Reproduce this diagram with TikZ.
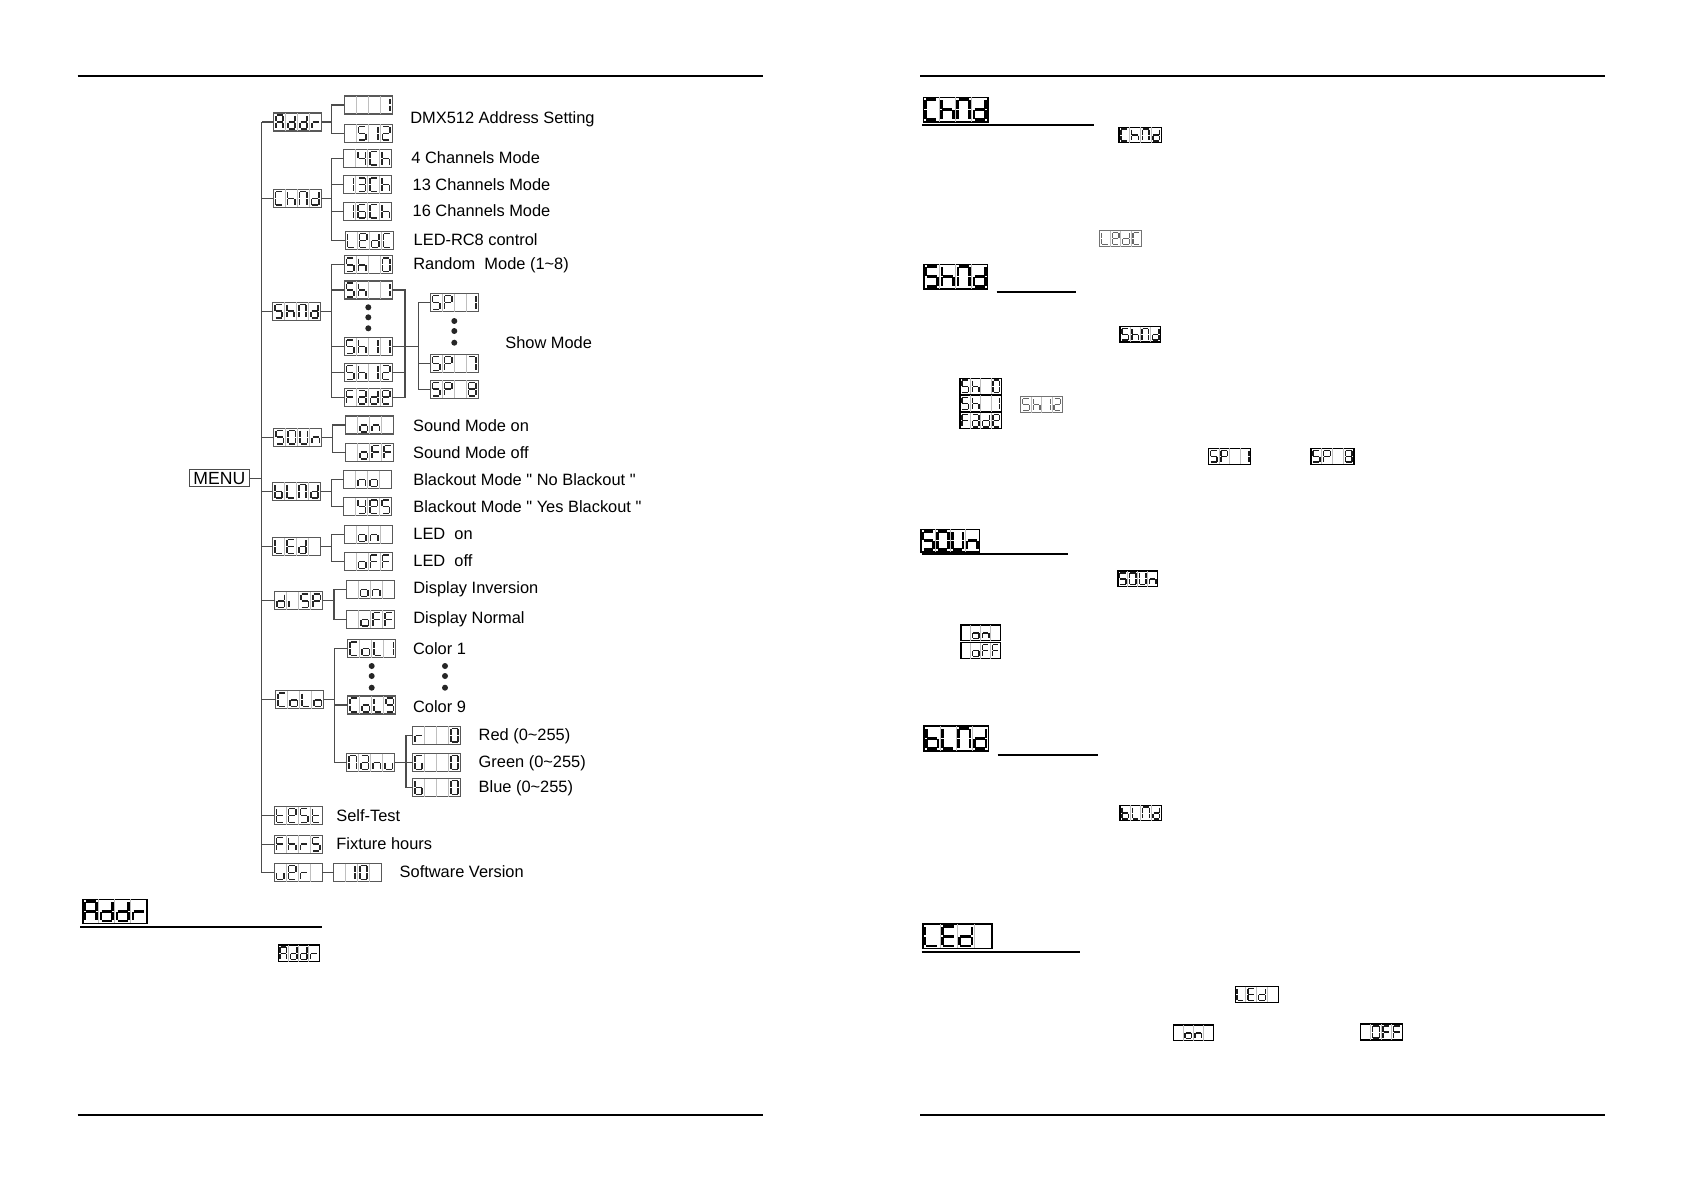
\documentclass[tikz,border=0pt]{standalone}
\usepackage{fontspec}
\setmainfont{Liberation Sans}
\usetikzlibrary{calc}

% ---------- seven-segment machinery ----------
\newcommand\defch[2]{\expandafter\def\csname lcdch#1\endcsname{#2}}
\defch{x}{}
\defch{A}{abcefg}\defch{a}{abcdeg}\defch{b}{cdefg}\defch{C}{adef}
\defch{d}{bcdeg}\defch{E}{adefg}\defch{e}{abdefg}\defch{F}{aefg}
\defch{G}{acdef}\defch{h}{cefg}\defch{i}{e}\defch{L}{def}
\defch{N}{abcef}\defch{n}{ceg}\defch{o}{cdeg}\defch{O}{abcdef}
\defch{P}{abefg}\defch{r}{eg}\defch{S}{acdfg}\defch{t}{defg}
\defch{U}{bcdef}\defch{u}{cde}\defch{Y}{bcdfg}
\defch{0}{abcdef}\defch{1}{bc}\defch{2}{abdeg}\defch{3}{abcdg}
\defch{4}{bcfg}\defch{5}{acdfg}\defch{6}{acdefg}\defch{7}{abc}
\defch{8}{abcdefg}\defch{9}{abcdfg}

\expandafter\def\csname lcdsga\endcsname{{l}{t}{r}{t}}
\expandafter\def\csname lcdsgb\endcsname{{r}{t}{r}{m}}
\expandafter\def\csname lcdsgc\endcsname{{r}{m}{r}{b}}
\expandafter\def\csname lcdsgd\endcsname{{l}{b}{r}{b}}
\expandafter\def\csname lcdsge\endcsname{{l}{m}{l}{b}}
\expandafter\def\csname lcdsgf\endcsname{{l}{t}{l}{m}}
\expandafter\def\csname lcdsgg\endcsname{{l}{m}{r}{m}}

\def\lcdgo#1#2#3#4{%
  \edef\lcdA{\csname lcdx#1\endcsname}\edef\lcdB{\csname lcdy#2\endcsname}%
  \edef\lcdC{\csname lcdx#3\endcsname}\edef\lcdD{\csname lcdy#4\endcsname}%
  \draw[lcdseg] (\lcdA,\lcdB) -- (\lcdC,\lcdD);}
\def\drawoneseg#1{\expandafter\expandafter\expandafter\lcdgo\csname lcdsg#1\endcsname}
\def\drawsegs#1{\drawsegsi#1\relax}
\def\drawsegsi#1{\ifx#1\relax\let\lcdnext\relax\else\def\lcdnext{\drawoneseg#1\drawsegsi}\fi\lcdnext}

\def\lcdmxtree{0.2}\def\lcdmytree{0.12}
\def\lcdmxbig{0.14}\def\lcdmybig{0.09}
\def\lcdmxsmall{0.18}\def\lcdmysmall{0.12}
\def\lcdmxgray{0.18}\def\lcdmygray{0.12}

% #1 kind, #2 name, #3 x, #4 y, #5 width, #6 height, #7 characters
\newcommand\lcd[7][tree]{%
  \node[lcdbox#1, minimum width={#5*0.5pt}, minimum height={#6*0.5pt}] (#2) at (#3,#4) {};
  \tikzset{lcdseg/.style={lcdseg#1}}%
  \pgfmathsetmacro\lcdX{#3-#5/2}%
  \pgfmathsetmacro\lcdY{#4-#6/2}%
  \pgfmathsetmacro\lcdW{#5/4}%
  \foreach \lcdk in {1,2,3} {\draw[lcdsep] ({\lcdX+\lcdk*\lcdW},\lcdY) -- ++(0,#6);}
  \foreach \lcdc [count=\lcdi] in {#7} {%
    \pgfmathsetmacro\lcdxl{\lcdX+(\lcdi-1)*\lcdW+\csname lcdmx#1\endcsname*\lcdW}%
    \pgfmathsetmacro\lcdxr{\lcdX+\lcdi*\lcdW-\csname lcdmx#1\endcsname*\lcdW}%
    \pgfmathsetmacro\lcdyt{\lcdY+\csname lcdmy#1\endcsname*#6}%
    \pgfmathsetmacro\lcdyb{\lcdY+#6-\csname lcdmy#1\endcsname*#6}%
    \pgfmathsetmacro\lcdym{(\lcdyt+\lcdyb)/2}%
    \edef\lcdsegs{\csname lcdch\lcdc\endcsname}%
    \expandafter\drawsegs\expandafter{\lcdsegs}%
  }%
}

\tikzset{
  lcdboxtree/.style={draw=black!65, line width=0.55pt, inner sep=0pt, outer sep=0pt},
  lcdboxbig/.style={draw=black, line width=0.8pt, inner sep=0pt, outer sep=0pt},
  lcdboxsmall/.style={draw=black, line width=0.55pt, inner sep=0pt, outer sep=0pt},
  lcdboxgray/.style={draw=black!55, line width=0.5pt, inner sep=0pt, outer sep=0pt},
  lcdsegtree/.style={draw=black!85, line width=0.75pt, shorten <=0.3pt, shorten >=0.3pt},
  lcdsegbig/.style={draw=black, line width=1.3pt, shorten <=0.4pt, shorten >=0.4pt},
  lcdsegsmall/.style={draw=black!90, line width=0.7pt, shorten <=0.25pt, shorten >=0.25pt},
  lcdseggray/.style={draw=black!60, line width=0.65pt, shorten <=0.25pt, shorten >=0.25pt},
  lcdsep/.style={draw=black!25, line width=0.4pt},
  wire/.style={draw=black!70, line width=0.55pt},
  lbl/.style={anchor=base west, inner sep=0pt, font=\fontsize{8.2}{10}\selectfont},
  pageline/.style={draw=black, line width=1pt},
  uline/.style={draw=black, line width=1.2pt},
  dot/.style={fill=black!85},
}

\begin{document}
\begin{tikzpicture}[x=0.5pt, y=-0.5pt]
\useasboundingbox (0,0) rectangle (1684,1190);
\fill[white] (0,0) rectangle (1684,1190);

% page lines
\draw[pageline] (77.7,76) -- (762.5,76);
\draw[pageline] (920.4,76) -- (1604.5,76);
\draw[pageline] (77.7,1115) -- (762.5,1115);
\draw[pageline] (920.4,1115) -- (1604.5,1115);

% ---------- menu tree ----------
\node[draw=black!70, line width=0.55pt, minimum width=30pt, minimum height=8.4pt, inner sep=0pt,
      font=\fontsize{8.8}{10}\selectfont] (menu) at (219.3,478.3) {MENU};

\lcd{addr}{297.5}{122}{48}{18}{A,d,d,r}
\lcd{a1}{368.3}{105}{48}{18}{x,x,x,1}
\lcd{a2}{368.3}{133.3}{48}{18}{x,5,1,2}
\lcd{chnd}{297.2}{198.3}{48}{18}{C,h,N,d}
\lcd{c1}{367.8}{158.3}{48}{18}{x,4,C,h}
\lcd{c2}{367.8}{184.7}{48}{18}{1,3,C,h}
\lcd{c3}{367.8}{211.3}{48}{18}{1,6,C,h}
\lcd{c4}{369.2}{240.5}{48}{18}{L,e,d,C}
\lcd{shnd}{296.5}{311.2}{48}{18}{S,h,N,d}
\lcd{s0}{368.3}{264.8}{48}{18}{S,h,x,0}
\lcd{s1}{368.3}{290}{48}{18}{S,h,x,1}
\lcd{s11}{368.3}{346.7}{48}{18}{S,h,1,1}
\lcd{s12}{368.3}{372.5}{48}{18}{S,h,1,2}
\lcd{sfade}{368.3}{397.2}{48}{18}{F,a,d,e}
\lcd{sp1}{454.2}{302.5}{48}{18}{S,P,x,1}
\lcd{sp7}{454.2}{363.5}{48}{18}{S,P,x,7}
\lcd{sp8}{454.2}{389.2}{48}{18}{S,P,x,8}
\lcd{soun}{297.8}{437.2}{48}{18}{S,O,U,n}
\lcd{so1}{369.8}{425}{48}{18}{x,o,n,x}
\lcd{so2}{369.8}{452.2}{48}{18}{x,o,F,F}
\lcd{blnd}{296.5}{491.3}{48}{18}{b,L,N,d}
\lcd{bl1}{367.8}{479.7}{48}{18}{x,n,o,x}
\lcd{bl2}{367.8}{506.7}{48}{18}{x,Y,e,S}
\lcd{led}{296.5}{546.5}{48}{18}{L,E,d,x}
\lcd{le1}{368.3}{534.5}{48}{18}{x,o,n,x}
\lcd{le2}{368.3}{561.7}{48}{18}{x,o,F,F}
\lcd{disp}{298.7}{600.8}{48}{18}{d,i,S,P}
\lcd{di1}{370.3}{589.5}{48}{18}{x,o,n,x}
\lcd{di2}{370.8}{619.3}{48}{18}{x,o,F,F}
\lcd{colo}{299.8}{699.8}{48}{18}{C,o,L,o}
\lcd{co1}{371.7}{648.7}{48}{18}{C,o,L,1}
\lcd{co9}{371.7}{705}{48}{18}{C,o,L,9}
\lcd{manu}{370.8}{762.5}{48}{18}{N,a,n,u}
\lcd{mr}{436.5}{735.3}{48}{18}{r,x,x,0}
\lcd{mg}{436.5}{762.5}{48}{18}{G,x,x,0}
\lcd{mb}{436.5}{787.5}{48}{18}{b,x,x,0}
\lcd{test}{298.3}{815.5}{48}{18}{t,e,S,t}
\lcd{fhrs}{298.3}{844.2}{48}{18}{F,h,r,S}
\lcd{uer}{298.3}{872.5}{48}{18}{u,e,r,x}
\lcd{ver}{357.5}{872.5}{48}{18}{x,1,0,x}

% branch coordinates
\coordinate (trunk) at (261.7,0);
\coordinate (bA) at (331.7,0);
\coordinate (bSo) at (332.7,0);
\coordinate (bD) at (334,0);
\coordinate (bCo) at (334.3,0);
\coordinate (bK) at (405,0);
\coordinate (bP) at (418.3,0);
\coordinate (bM) at (406,0);

% trunk
\draw[wire] (addr.west -| trunk) -- (uer.west -| trunk);
\foreach \n in {addr,chnd,shnd,soun,blnd,led,disp,colo,test,fhrs,uer}
  \draw[wire] (\n.west) -- (\n.west -| trunk);
\draw[wire] (menu.east) -- (menu.east -| trunk);

% Addr
\draw[wire] (addr.east) -- (addr.east -| bA);
\draw[wire] (a1.west) -- (a1.west -| bA) -- (a2.west -| bA) -- (a2.west);
% ChNd
\draw[wire] (chnd.east) -- (chnd.east -| bA);
\draw[wire] (c1.west) -- (c1.west -| bA) -- (c4.west -| bA) -- (c4.west);
\draw[wire] (c2.west) -- (c2.west -| bA);
\draw[wire] (c3.west) -- (c3.west -| bA);
% ShNd
\draw[wire] (shnd.east) -- (shnd.east -| bA);
\draw[wire] (s0.west) -- (s0.west -| bA) -- (sfade.west -| bA) -- (sfade.west);
\draw[wire] (s1.west) -- (s1.west -| bA);
\draw[wire] (s11.west) -- (s11.west -| bA);
\draw[wire] (s12.west) -- (s12.west -| bA);
\draw[wire] (s1.east) -- (s1.east -| bK) -- (sfade.east -| bK) -- (sfade.east);
\draw[wire] (s11.east) -- (s11.east -| bK);
\draw[wire] (s12.east) -- (s12.east -| bK);
\draw[wire] (s11.east -| bK) -- (s11.east -| bP);
\draw[wire] (sp1.west) -- (sp1.west -| bP) -- (sp8.west -| bP) -- (sp8.west);
\draw[wire] (sp7.west) -- (sp7.west -| bP);
% SOUn
\draw[wire] (soun.east) -- (soun.east -| bSo);
\draw[wire] (so1.west) -- (so1.west -| bSo) -- (so2.west -| bSo) -- (so2.west);
% bLNd
\draw[wire] (blnd.east) -- (blnd.east -| bA);
\draw[wire] (bl1.west) -- (bl1.west -| bA) -- (bl2.west -| bA) -- (bl2.west);
% LEd
\draw[wire] (led.east) -- (led.east -| bA);
\draw[wire] (le1.west) -- (le1.west -| bA) -- (le2.west -| bA) -- (le2.west);
% dISP
\draw[wire] (disp.east) -- (disp.east -| bD);
\draw[wire] (di1.west) -- (di1.west -| bD) -- (di2.west -| bD) -- (di2.west);
% CoLo
\draw[wire] (colo.east) -- (colo.east -| bCo);
\draw[wire] (co1.west) -- (co1.west -| bCo) -- (manu.west -| bCo) -- (manu.west);
\draw[wire] (co9.west) -- (co9.west -| bCo);
\draw[wire] (manu.east) -- (manu.east -| bM);
\draw[wire] (mr.west) -- (mr.west -| bM) -- (mb.west -| bM) -- (mb.west);
\draw[wire] (mg.west) -- (mg.west -| bM);
% version
\draw[wire] (uer.east) -- (ver.west);

% dots
\foreach \yy in {307.3,317.3,328.3} \fill[dot] (368.3,\yy) circle[radius=1.5pt];
\foreach \yy in {321,331,342.7} \fill[dot] (454.3,\yy) circle[radius=1.5pt];
\foreach \yy in {666,676,687.7} {\fill[dot] (371.7,\yy) circle[radius=1.5pt];
  \fill[dot] (445,\yy) circle[radius=1.5pt];}

% labels
\node[lbl] (t1) at (410,123.5) {DMX512 Address Setting};
\node[lbl] (t2) at (411,163.8) {4 Channels Mode};
\node[lbl] (t3) at (412.3,190) {13 Channels Mode};
\node[lbl] (t4) at (412.3,216.5) {16 Channels Mode};
\node[lbl] (t5) at (413.3,245.5) {LED-RC8 control};
\node[lbl] (t6) at (413,269.5) {Random\ \ Mode (1\textasciitilde 8)};
\node[lbl] (t7) at (505,348.8) {Show Mode};
\node[lbl] (t8) at (412.7,431.5) {Sound Mode on};
\node[lbl] (t9) at (412.7,458.8) {Sound Mode off};
\node[lbl] (t10) at (413,485.5) {Blackout Mode \textquotedbl\ No Blackout \textquotedbl};
\node[lbl] (t11) at (413,512.5) {Blackout Mode \textquotedbl\ Yes Blackout \textquotedbl};
\node[lbl] (t12) at (413,539.5) {LED\ \ on};
\node[lbl] (t13) at (413,566.5) {LED\ \ off};
\node[lbl] (t14) at (413,593.2) {Display Inversion};
\node[lbl] (t15) at (413,623.8) {Display Normal};
\node[lbl] (t16) at (412.7,654.5) {Color 1};
\node[lbl] (t17) at (412.7,712.2) {Color 9};
\node[lbl] (t18) at (478.3,740.5) {Red (0\textasciitilde 255)};
\node[lbl] (t19) at (478.3,767.5) {Green (0\textasciitilde 255)};
\node[lbl] (t20) at (478.3,792.5) {Blue (0\textasciitilde 255)};
\node[lbl] (t21) at (336,821.5) {Self-Test};
\node[lbl] (t22) at (336,849.5) {Fixture hours};
\node[lbl] (t23) at (399.3,877.5) {Software Version};

% ---------- left page bottom ----------
\lcd[big]{lAddr}{114.7}{911.3}{64}{24}{A,d,d,r}
\draw[uline] (80,926.7) -- (321.7,926.7);
\lcd[small]{lAddrs}{298.7}{953.3}{40.7}{16.7}{A,d,d,r}

% ---------- right page ----------
\lcd[big]{rChNd}{955.5}{109.5}{64.4}{24.4}{C,h,N,d}
\draw[uline] (922.3,125) -- (1094,125);
\lcd[small]{rChNds}{1140.3}{135}{42.7}{15.4}{C,h,N,d}
\lcd[gray]{rLEdC}{1120.8}{238.7}{41.7}{16}{L,e,d,C}

\lcd[big]{rShNd}{955.8}{276.5}{63.7}{24.4}{S,h,N,d}
\draw[uline] (996.7,291.7) -- (1075.7,291.7);
\lcd[small]{rShNds}{1140.3}{334.3}{40.7}{15.3}{S,h,N,d}
\lcd[small]{rSh0}{980.8}{386.3}{41.7}{16.2}{S,h,x,0}
\lcd[small]{rSh1}{980.8}{403.5}{41.7}{16.2}{S,h,x,1}
\lcd[small]{rFade}{980.8}{420.7}{41.7}{16.2}{F,a,d,e}
\lcd[gray]{rSh12}{1041.8}{404.7}{41.7}{16}{S,h,1,2}
\lcd[small]{rSP1}{1229.5}{456.2}{42.4}{15.7}{S,P,x,1}
\lcd[small]{rSP8}{1332.5}{456.2}{43}{15.7}{S,P,x,8}

\lcd[big]{rSOUn}{950.3}{540.5}{58.7}{22.4}{S,O,U,n}
\draw[uline] (921.7,553.7) -- (1067.7,553.7);
\lcd[small]{rSOUns}{1137.8}{578.8}{39.7}{15.7}{S,O,U,n}
\lcd[small]{rOn}{980.8}{632.8}{39.7}{15.7}{x,o,n,x}
\lcd[small]{rOff}{980.8}{650.5}{39.7}{16}{x,o,F,F}

\lcd[big]{rbLNd}{956.2}{738.5}{64.3}{25}{b,L,N,d}
\draw[uline] (997.7,755) -- (1097.7,755);
\lcd[small]{rbLNds}{1140.8}{813}{41.7}{15.4}{b,L,N,d}

\lcd[big]{rLEd}{957.2}{936.2}{69}{24.3}{L,E,d,x}
\draw[uline] (921.7,951.7) -- (1080,951.7);
\lcd[small]{rLEds}{1256.7}{994.5}{43.3}{15.6}{L,E,d,x}
\lcd[small]{rLon}{1193.3}{1032.8}{40}{15.7}{x,o,n,x}
\lcd[small]{rLoff}{1381.2}{1032}{42.3}{16}{x,0,F,F}
\end{tikzpicture}
\end{document}
